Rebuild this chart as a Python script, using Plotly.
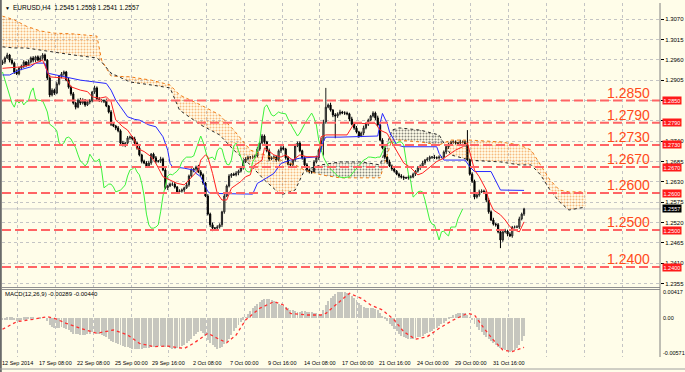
import plotly.graph_objects as go

# ---------------- data ----------------
first_open = 1.2950
close = [
    1.2954, 1.2965, 1.2973, 1.2959, 1.2951, 1.2927, 1.2922, 1.2938, 1.2943, 1.2954,
    1.2946, 1.2954, 1.2965, 1.2959, 1.2968, 1.2959, 1.2965, 1.2973, 1.2959, 1.2911,
    1.2865, 1.2878, 1.2870, 1.2895, 1.2916, 1.2922,
    1.2927, 1.2905, 1.2886, 1.2868, 1.2843, 1.2832, 1.2851, 1.2843, 1.2851, 1.2838,
    1.2846, 1.2849, 1.2873, 1.2884, 1.2854, 1.2851, 1.2849, 1.2849, 1.2835, 1.2819,
    1.2786, 1.2781, 1.2776, 1.2768, 1.2735, 1.2730, 1.2735, 1.2749, 1.2751, 1.2746,
    1.2735, 1.2722, 1.2703, 1.2686, 1.2681, 1.2673, 1.2681, 1.2705, 1.2695, 1.2686,
    1.2686, 1.2692, 1.2662, 1.2614, 1.2619, 1.2624, 1.2624, 1.2616, 1.2603, 1.2605,
    1.2608, 1.2614, 1.2622, 1.2646, 1.2662, 1.2665, 1.2670, 1.2657, 1.2649, 1.2627,
    1.2592, 1.2543, 1.2514, 1.2505, 1.2505, 1.2508, 1.2514, 1.2549, 1.2592, 1.2619,
    1.2646, 1.2651, 1.2649, 1.2654, 1.2659, 1.2668, 1.2684, 1.2692, 1.2697, 1.2697,
    1.2697, 1.2700, 1.2719, 1.2735, 1.2754, 1.2738, 1.2714, 1.2692, 1.2695, 1.2697,
    1.2689, 1.2714, 1.2722, 1.2719, 1.2695, 1.2678, 1.2676, 1.2689, 1.2727, 1.2735,
    1.2714, 1.2695, 1.2676, 1.2662, 1.2657, 1.2657, 1.2684, 1.2695, 1.2716, 1.2741,
    1.2792, 1.2832, 1.2838, 1.2824, 1.2811, 1.2808, 1.2814, 1.2819, 1.2816, 1.2816,
    1.2814, 1.2800, 1.2786, 1.2776, 1.2765, 1.2754, 1.2762, 1.2776, 1.2786, 1.2797,
    1.2808, 1.2816, 1.2803, 1.2784, 1.2743, 1.2722, 1.2697, 1.2684, 1.2673, 1.2665,
    1.2659, 1.2651, 1.2646, 1.2643, 1.2641, 1.2641, 1.2643, 1.2643, 1.2651, 1.2659,
    1.2668, 1.2673, 1.2681, 1.2689, 1.2692, 1.2697, 1.2697, 1.2695, 1.2695, 1.2697,
    1.2697, 1.2711, 1.2724, 1.2730, 1.2738, 1.2738, 1.2735, 1.2735, 1.2738, 1.2738,
    1.2730, 1.2689, 1.2651, 1.2632, 1.2589, 1.2595, 1.2603, 1.2605, 1.2603, 1.2581,
    1.2549, 1.2527, 1.2516, 1.2514, 1.2495, 1.2473, 1.2495, 1.2497, 1.2489, 1.2484,
    1.2508, 1.2508, 1.2508, 1.2530, 1.2543, 1.2557,
]
upper_wick_pips = [
    5, 4, 6, 3, 5, 4, 7, 3, 4, 5,  3, 6, 4, 5, 3, 4, 6, 5, 4, 3,
    8, 5, 4, 6, 3, 5, 4, 3, 6, 4,  5, 3, 4, 6, 5, 3, 4, 5, 3, 6,
    4, 5, 3, 4, 6, 3, 5, 4, 3, 5,  4, 6, 3, 5, 4, 3, 6, 4, 5, 3,
    4, 5, 6, 3, 4, 5, 3, 6, 4, 5,  3, 4, 5, 6, 3, 5, 4, 3, 6, 4,
    5, 3, 4, 6, 5, 4, 3, 5, 4, 6,  3, 5, 4, 3, 6, 4, 5, 3, 4, 5,
    4, 3, 6, 5, 4, 3, 5, 4, 6, 3,  5, 4, 3, 6, 4, 5, 3, 4, 5, 6,
    3, 5, 4, 3, 6, 4, 5, 3, 4, 5,  4, 3, 5, 6, 4, 8, 6, 52, 4, 6,
    3, 5, 4, 6, 3, 5, 4, 3, 6, 4,  5, 3, 4, 6, 5, 4, 3, 5, 4, 6,
    3, 5, 4, 3, 6, 4, 5, 3, 4, 5,  4, 3, 6, 5, 4, 3, 5, 4, 6, 3,
    5, 4, 3, 6, 4, 5, 3, 4, 5, 6,  3, 5, 4, 3, 6, 4, 5, 40, 4, 5,
    4, 3, 6, 5, 4, 3, 5, 4, 6, 3,  5, 4, 3, 6, 4, 5, 3, 4, 5, 6,
    4, 3,
]
lower_wick_pips = [
    4, 5, 3, 6, 4, 5, 3, 4, 6, 5,  5, 3, 4, 6, 5, 3, 4, 5, 3, 6,
    6, 4, 5, 3, 4, 6, 5, 3, 4, 5,  4, 6, 3, 5, 4, 5, 3, 6, 4, 5,
    3, 5, 4, 6, 3, 4, 5, 3, 6, 4,  5, 4, 6, 3, 5, 4, 3, 5, 4, 6,
    3, 5, 4, 5, 3, 6, 4, 5, 3, 4,  6, 3, 5, 4, 3, 5, 4, 6, 3, 5,
    4, 6, 5, 3, 4, 5, 3, 4, 6, 8,  5, 3, 4, 6, 5, 3, 4, 5, 3, 4,
    6, 4, 5, 3, 4, 6, 5, 3, 4, 5,  3, 5, 4, 6, 3, 4, 5, 3, 6, 4,
    5, 3, 4, 6, 5, 3, 4, 5, 3, 6,  4, 5, 3, 4, 6, 5, 40, 5, 3, 4,
    6, 60, 5, 4, 3, 5, 4, 6, 3, 5,  4, 5, 3, 6, 4, 5, 3, 4, 6, 5,
    3, 4, 5, 6, 3, 5, 4, 3, 5, 4,  6, 3, 5, 4, 3, 5, 4, 6, 3, 5,
    4, 6, 5, 3, 4, 5, 3, 4, 6, 5,  3, 5, 4, 6, 3, 4, 5, 3, 4, 5,
    6, 4, 5, 3, 4, 6, 5, 3, 4, 5,  4, 22, 5, 4, 6, 3, 5, 4, 3, 5,
    4, 5,
]

tenkan_bars = [0, 8, 12, 17, 20, 27, 29, 33, 36, 38, 41, 44, 46, 47, 48, 51, 53, 55, 56, 57,
               60, 63, 65, 68, 71, 74, 77, 79, 82, 83, 84, 86, 87, 89, 91, 93, 95, 97, 99, 101,
               103, 105, 106, 108, 110, 111, 115, 118, 120, 123, 126, 129, 134, 135, 137, 146, 149, 152, 156, 158,
               160, 163, 166, 170, 173, 176, 178, 181, 184, 187, 190, 192, 195, 197, 200, 202, 205, 206, 208, 211,
               213, 215, 217, 219, 221]
tenkan_vals = [1.2937, 1.2941, 1.2946, 1.2959, 1.2914, 1.2910, 1.2887, 1.2878, 1.2874, 1.2860,
               1.2856, 1.2860, 1.2847, 1.2824, 1.2797, 1.2779, 1.2770, 1.2752, 1.2743, 1.2721,
               1.2712, 1.2698, 1.2680, 1.2644, 1.2635, 1.2626, 1.2622, 1.2635, 1.2653, 1.2662,
               1.2689, 1.2703, 1.2698, 1.2653, 1.2599, 1.2581, 1.2581, 1.2613, 1.2622, 1.2631,
               1.2644, 1.2649, 1.2671, 1.2680, 1.2689, 1.2722, 1.2703, 1.2697, 1.2703, 1.2689,
               1.2703, 1.2698, 1.2698, 1.2752, 1.2757, 1.2757, 1.2788, 1.2788, 1.2788, 1.2788,
               1.2770, 1.2761, 1.2725, 1.2681, 1.2668, 1.2649, 1.2654, 1.2670, 1.2685, 1.2694,
               1.2707, 1.2716, 1.2725, 1.2735, 1.2662, 1.2644, 1.2608, 1.2581, 1.2554, 1.2541,
               1.2527, 1.2509, 1.2500, 1.2495, 1.2522]

kijun_bars = [0, 3, 7, 12, 14, 18, 19, 27, 33, 38, 44, 46, 48, 50, 53, 56, 58, 62, 65, 68,
              70, 71, 72, 77, 81, 82, 84, 87, 88, 106, 108, 112, 115, 118, 122, 126, 134, 136, 137, 143,
              153, 159, 160, 161, 163, 164, 167, 170, 184, 185, 187, 196, 198, 200, 207, 209, 211, 221]
kijun_vals = [1.2919, 1.2919, 1.2932, 1.2941, 1.2951, 1.2951, 1.2924, 1.2914, 1.2905, 1.2901,
              1.2896, 1.2878, 1.2851, 1.2833, 1.2806, 1.2799, 1.2797, 1.2784, 1.2779, 1.2752,
              1.2716, 1.2680, 1.2671, 1.2667, 1.2662, 1.2653, 1.2644, 1.2604, 1.2599, 1.2597,
              1.2626, 1.2641, 1.2653, 1.2680, 1.2689, 1.2694, 1.2698, 1.2741, 1.2751, 1.2751,
              1.2752, 1.2754, 1.2788, 1.2815, 1.2788, 1.2765, 1.2730, 1.2725, 1.2725, 1.2707,
              1.2689, 1.2689, 1.2671, 1.2658, 1.2658, 1.2635, 1.2608, 1.2607]

cloud_bars = [0, 5, 10, 16, 22, 30, 40, 42, 46, 54, 63, 71, 75, 84, 92, 98, 105, 111, 118, 124,
              128, 135, 143, 152, 160, 165, 168, 177, 185, 190, 198, 211, 219, 224, 228, 232, 236, 240, 247]
span_a = [1.3078, 1.3068, 1.3051, 1.3038, 1.3032, 1.3030, 1.3024, 1.2959, 1.2916, 1.2914,
          1.2905, 1.2892, 1.2865, 1.2838, 1.2811, 1.2770, 1.2716, 1.2703, 1.2689, 1.2676,
          1.2662, 1.2649, 1.2641, 1.2641, 1.2641, 1.2743, 1.2743, 1.2738, 1.2730, 1.2743,
          1.2743, 1.2738, 1.2730, 1.2716, 1.2676, 1.2635, 1.2608, 1.2603, 1.2603]
span_b = [1.2995, 1.2992, 1.2992, 1.2986, 1.2981, 1.2973, 1.2965, 1.2954, 1.2924, 1.2900,
          1.2892, 1.2884, 1.2824, 1.2784, 1.2757, 1.2716, 1.2676, 1.2635, 1.2595, 1.2608,
          1.2662, 1.2676, 1.2684, 1.2684, 1.2676, 1.2770, 1.2776, 1.2770, 1.2757, 1.2703,
          1.2689, 1.2684, 1.2676, 1.2676, 1.2649, 1.2608, 1.2576, 1.2554, 1.2562]

macd_hist_e4 = [
    -4, -4, -3, -3, -3, -4, -5, -5, -4, -3, -3, -2, -1, -1, 0, 0, -1, 0, 0,
    -6, -12, -15, -17, -17, -16, -15, -16, -18, -20, -23, -26, -27, -27, -28, -28, -28, -27,
    -26, -24, -24, -26, -27, -28,
    -30, -32, -35, -37, -39, -41, -43, -45, -46, -47, -48, -49, -50, -51, -51, -50, -50, -49, -49, -49,
    -48, -47, -47, -46, -46, -47, -48, -48, -49, -50, -50, -49, -48, -46, -44, -41,
    -38, -34, -30, -27, -24, -22,
    -25, -30, -36, -41, -45, -48,
    -50, -49, -47, -43, -39, -34,
    -28, -22, -17, -12, -7, -3, 1,
    6, 11, 15, 19, 23, 26, 28, 30, 31,
    30, 29, 27, 25, 23, 21, 19,
    17, 15, 13, 12, 11, 10, 10, 11, 11, 10, 9, 9, 8, 7, 6, 5,
    12, 20, 27, 32, 36, 39, 41, 42, 42, 41,
    40, 38, 35, 32, 28, 24, 21,
    18, 16, 15, 15, 15, 14, 12, 8, 3,
    -2, -6, -10, -14, -18, -22, -26, -29, -31,
    -33, -34, -34, -34, -33, -32,
    -31, -29, -27, -25, -23, -21, -19, -17,
    -14, -11, -8, -5, -2, 1,
    4, 6, 7, 8, 8, 7, 4, 1,
    -4, -10, -15, -20, -24, -28, -32,
    -35, -38, -41, -44, -47, -49, -51, -53,
    -54, -55, -54, -52, -49, -45, -38, -29,
]
signal_bars = [0, 6, 13, 19, 22, 27, 33, 40, 47, 53, 58, 64, 70, 77, 81, 87, 91, 95, 99, 103,
               109, 115, 119, 122, 129, 135, 137, 142, 146, 147, 152, 156, 161, 166, 170, 175, 180, 185, 191, 197,
               200, 204, 208, 212, 216, 221]
signal_vals = [-0.00188, -0.00065, -0.00026, 0.00016, -0.00010, -0.00091, -0.00172, -0.00253, -0.00200, -0.00280,
               -0.00415, -0.00470, -0.00460, -0.00500, -0.00415, -0.00253, -0.00334, -0.00406, -0.00280, -0.00037,
               0.00153, 0.00260, 0.00206, 0.00070, 0.00044, 0.00044, 0.00070, 0.00234, 0.00368, 0.00396,
               0.00315, 0.00206, 0.00125, -0.00037, -0.00227, -0.00350, -0.00308, -0.00172, -0.00037, 0.00070,
               0.00044, -0.00172, -0.00362, -0.00524, -0.00550, -0.00480]

level_prices = [1.2850, 1.2790, 1.2730, 1.2670, 1.2600, 1.2500, 1.2400]
price_ticks = [1.2355, 1.2410, 1.2465, 1.2520, 1.2575, 1.2630, 1.2685, 1.2740,
               1.2795, 1.2850, 1.2905, 1.2960, 1.3015, 1.3070]
covered_ticks = [1.2795, 1.2850]
time_tick_bars = [0, 16, 32, 48, 64, 80, 96, 112, 128, 144, 160, 176, 192, 208]
time_tick_text = ["12 Sep 2014", "17 Sep 08:00", "22 Sep 08:00", "25 Sep 00:00", "29 Sep 16:00",
                  "2 Oct 08:00", "7 Oct 00:00", "9 Oct 16:00", "14 Oct 08:00", "17 Oct 00:00",
                  "21 Oct 16:00", "24 Oct 00:00", "29 Oct 00:00", "31 Oct 16:00"]
bid_price = 1.2557
title_text = "EURUSD,H4  1.2545 1.2558 1.2541 1.2557"
macd_title = "MACD(12,26,9) -0.00289 -0.00440"
macd_axis_vals = [0.00417, 0.0, -0.00571]
macd_axis_text = ["0.00417", "0.00", "-0.00571"]
chikou_shift = 26

# ---------------- geometry (pixels) ----------------
W, H = 685, 372
BG = "#FFFDE9"
PLOT_L, PLOT_R = 2, 660
BAR0_PX, BAR_PX = 2.5, 2.36
MAIN_TOP, MAIN_BOT = 3, 287
MACD_TOP, MACD_BOT = 290, 357
REF_PRICE, REF_Y, PX_PER_PRICE = 1.2850, 100.5, 3700.0
MACD_ZERO_Y, PX_PER_MACD = 317.7, 6163.0
LABEL_SPAN = 16            # bars between time labels
LABEL_CENTER = 6.5         # label / grid line centre offset in bars
FONT = "Liberation Sans"


def py(y):
    return 1 - y / H


def price_at(y):
    return REF_PRICE + (REF_Y - y) / PX_PER_PRICE


def macd_at(y):
    return (MACD_ZERO_Y - y) / PX_PER_MACD


x_range = [(PLOT_L - BAR0_PX) / BAR_PX, (PLOT_R - BAR0_PX) / BAR_PX]
grid_x = [LABEL_CENTER + LABEL_SPAN * k for k in range(17)]

n = len(close)
bars = list(range(n))
opens = [first_open] + close[:-1]
highs = [max(o, c) + u / 10000 for o, c, u in zip(opens, close, upper_wick_pips)]
lows = [min(o, c) - l / 10000 for o, c, l in zip(opens, close, lower_wick_pips)]

fig = go.Figure()

# ---------------- Ichimoku cloud ----------------
def cloud_runs(xs, a, b):
    runs = []
    state = a[0] >= b[0]
    cx, chi, clo = [xs[0]], [max(a[0], b[0])], [min(a[0], b[0])]
    for i in range(1, len(xs)):
        st = a[i] >= b[i]
        if st != state:
            d0, d1 = a[i - 1] - b[i - 1], a[i] - b[i]
            t = d0 / (d0 - d1)
            xc = xs[i - 1] + t * (xs[i] - xs[i - 1])
            vc = a[i - 1] + t * (a[i] - a[i - 1])
            cx.append(xc); chi.append(vc); clo.append(vc)
            runs.append((state, cx, chi, clo))
            cx, chi, clo = [xc], [vc], [vc]
            state = st
        cx.append(xs[i]); chi.append(max(a[i], b[i])); clo.append(min(a[i], b[i]))
    runs.append((state, cx, chi, clo))
    return runs


for up, cx, chi, clo in cloud_runs(cloud_bars, span_a, span_b):
    col = "#F07A14" if up else "#141414"
    fig.add_trace(go.Scatter(x=cx, y=clo, mode="lines", line=dict(width=0),
                             xaxis="x", yaxis="y", hoverinfo="skip"))
    fig.add_trace(go.Scatter(x=cx, y=chi, mode="lines", line=dict(width=0),
                             fill="tonexty", fillcolor="rgba(0,0,0,0)",
                             fillpattern=dict(shape=".", fgcolor=col, bgcolor="rgba(0,0,0,0)",
                                              size=3, solidity=0.33),
                             xaxis="x", yaxis="y", hoverinfo="skip"))

fig.add_trace(go.Scatter(x=cloud_bars, y=span_a, mode="lines",
                         line=dict(color="#F07A14", width=1, dash="dot"), xaxis="x", yaxis="y"))
fig.add_trace(go.Scatter(x=cloud_bars, y=span_b, mode="lines",
                         line=dict(color="#2A2A2A", width=1, dash="dot"), xaxis="x", yaxis="y"))

# ---------------- lines ----------------
fig.add_trace(go.Scatter(x=bars[:-chikou_shift], y=close[chikou_shift:], mode="lines",
                         line=dict(color="#3CF23C", width=1), xaxis="x", yaxis="y"))
fig.add_trace(go.Scatter(x=kijun_bars, y=kijun_vals, mode="lines",
                         line=dict(color="#2828FF", width=1), xaxis="x", yaxis="y"))
fig.add_trace(go.Scatter(x=tenkan_bars, y=tenkan_vals, mode="lines",
                         line=dict(color="#FF2020", width=1), xaxis="x", yaxis="y"))

# ---------------- candles ----------------
fig.add_trace(go.Candlestick(
    x=bars, open=opens, high=highs, low=lows, close=close,
    increasing=dict(line=dict(color="#202020", width=1), fillcolor="#A9AD98"),
    decreasing=dict(line=dict(color="#000000", width=1), fillcolor="#000000"),
    whiskerwidth=0, xaxis="x", yaxis="y"))

# ---------------- MACD ----------------
fig.add_trace(go.Bar(x=bars, y=[v / 10000 for v in macd_hist_e4], width=0.4,
                     marker=dict(color="#C6C6BE", line=dict(width=0)), xaxis="x2", yaxis="y2"))
fig.add_trace(go.Scatter(x=signal_bars, y=signal_vals, mode="lines",
                         line=dict(color="#FF3030", width=1.3, dash="dot"), xaxis="x2", yaxis="y2"))

# ---------------- shapes ----------------
shapes = []
for lv in level_prices:
    shapes.append(dict(type="line", xref="x domain", yref="y", x0=0, x1=1, y0=lv, y1=lv,
                       line=dict(color="#FF6464", width=2, dash="9px,4px"), layer="above"))
shapes.append(dict(type="line", xref="x domain", yref="y", x0=0, x1=1, y0=bid_price, y1=bid_price,
                   line=dict(color="#C8C8C8", width=1), layer="below"))
for yy in (MAIN_BOT + 0.5, MACD_TOP - 0.5):
    shapes.append(dict(type="line", xref="paper", yref="paper", x0=PLOT_L / W, x1=PLOT_R / W,
                       y0=py(yy), y1=py(yy), line=dict(color="#909090", width=1)))
shapes.append(dict(type="line", xref="paper", yref="paper", x0=PLOT_R / W, x1=PLOT_R / W,
                   y0=py(MACD_BOT), y1=py(MAIN_TOP), line=dict(color="#808080", width=1)))
shapes.append(dict(type="line", xref="paper", yref="paper", x0=0.8 / W, x1=0.8 / W,
                   y0=0, y1=1, line=dict(color="#6A6A6A", width=2)))
shapes.append(dict(type="line", xref="paper", yref="paper", x0=0, x1=1,
                   y0=py(369), y1=py(369), line=dict(color="#A0A0A0", width=1)))

# ---------------- annotations ----------------
ann = []
ann.append(dict(xref="paper", yref="paper", x=3 / W, y=py(8), text="▼", showarrow=False,
                xanchor="left", yanchor="middle", font=dict(size=5, color="#000000", family=FONT)))
ann.append(dict(xref="paper", yref="paper", x=11 / W, y=py(8), text=title_text, showarrow=False,
                xanchor="left", yanchor="middle", font=dict(size=6.5, color="#000000", family=FONT)))
ann.append(dict(xref="paper", yref="paper", x=3 / W, y=py(294), text=macd_title, showarrow=False,
                xanchor="left", yanchor="middle", font=dict(size=6, color="#000000", family=FONT)))
for lv in level_prices:
    ann.append(dict(xref="paper", yref="y", x=628 / W, y=lv, yshift=8, text=f"{lv:.4f}",
                    showarrow=False, xanchor="center", yanchor="middle",
                    font=dict(size=14, color="#FF4A1A", family=FONT)))
    ann.append(dict(xref="paper", yref="y", x=661.5 / W, y=lv, text=f"{lv:.4f}", showarrow=False,
                    xanchor="left", yanchor="middle", bgcolor="#FF1A1A", borderpad=0.5,
                    font=dict(size=5.5, color="#FFFFFF", family=FONT)))
ann.append(dict(xref="paper", yref="y", x=661.5 / W, y=bid_price, text=f"{bid_price:.4f}",
                showarrow=False, xanchor="left", yanchor="middle", bgcolor="#000000", borderpad=0.5,
                font=dict(size=5.5, color="#FFFFFF", family=FONT)))
for v, t in zip(macd_axis_vals, macd_axis_text):
    ann.append(dict(xref="paper", yref="y2", x=660.5 / W, y=v, text=t, showarrow=False,
                    xanchor="left", yanchor="middle", font=dict(size=5.5, color="#000000", family=FONT)))
for b, t in zip(time_tick_bars, time_tick_text):
    ann.append(dict(xref="x2", yref="paper", x=b + LABEL_CENTER, y=py(363), text=t, showarrow=False,
                    xanchor="center", yanchor="middle", font=dict(size=5.5, color="#000000", family=FONT)))

grid_style = dict(showgrid=True, gridcolor="#C4C4C4", griddash="dot", gridwidth=1)
fig.update_layout(
    width=W, height=H, margin=dict(l=0, r=0, t=0, b=0),
    paper_bgcolor=BG, plot_bgcolor=BG, showlegend=False, hovermode=False,
    xaxis=dict(domain=[PLOT_L / W, PLOT_R / W], range=x_range, anchor="y",
               tickvals=grid_x, showticklabels=False, ticks="",
               zeroline=False, rangeslider=dict(visible=False), **grid_style),
    yaxis=dict(domain=[py(MAIN_BOT), py(MAIN_TOP)], range=[price_at(MAIN_BOT), price_at(MAIN_TOP)],
               side="right", anchor="x", tickvals=price_ticks,
               ticktext=["" if p in covered_ticks else f"{p:.4f}" for p in price_ticks],
               ticks="outside", ticklen=3, tickcolor="#000000",
               tickfont=dict(size=6, color="#000000", family=FONT), zeroline=False, **grid_style),
    xaxis2=dict(domain=[PLOT_L / W, PLOT_R / W], range=x_range, anchor="y2", matches="x",
                tickvals=grid_x, showticklabels=False, ticks="",
                zeroline=False, **grid_style),
    yaxis2=dict(domain=[py(MACD_BOT), py(MACD_TOP)], range=[macd_at(MACD_BOT), macd_at(MACD_TOP)],
                side="right", anchor="x2", showgrid=False, showticklabels=False, zeroline=False,
                ticks=""),
    shapes=shapes, annotations=ann, bargap=0,
)

fig.write_html("out.html")
